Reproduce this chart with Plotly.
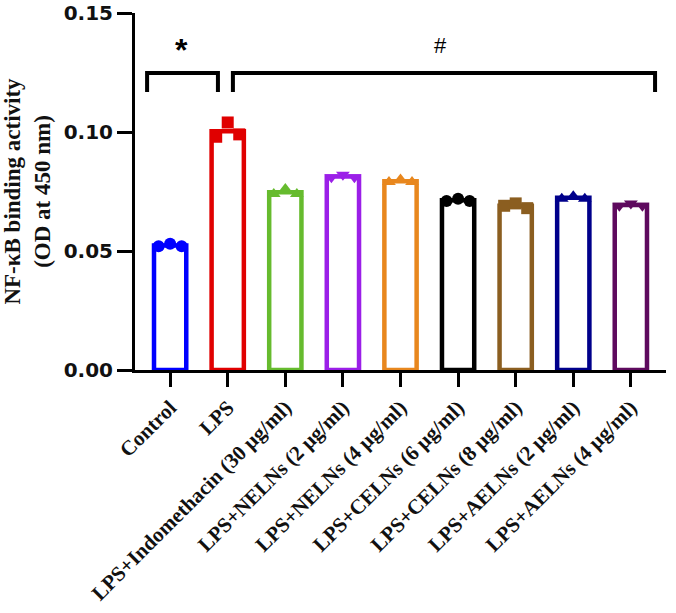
import plotly.graph_objects as go

categories = ["Control", "LPS", "LPS+Indomethacin (30 μg/ml)", "LPS+NELNs (2 μg/ml)",
              "LPS+NELNs (4 μg/ml)", "LPS+CELNs (6 μg/ml)", "LPS+CELNs (8 μg/ml)",
              "LPS+AELNs (2 μg/ml)", "LPS+AELNs (4 μg/ml)"]
replicates = [
    [0.052, 0.053, 0.052],
    [0.098, 0.104, 0.099],
    [0.074, 0.076, 0.074],
    [0.081, 0.082, 0.081],
    [0.079, 0.080, 0.079],
    [0.071, 0.072, 0.071],
    [0.069, 0.070, 0.068],
    [0.072, 0.073, 0.072],
    [0.069, 0.070, 0.069],
]
colors = ["#0000FF", "#E00000", "#66BB2E", "#9B1FE8", "#E8871E", "#000000",
          "#8B5E20", "#00008B", "#5E0A5E"]
symbols = ["circle", "square", "triangle-up", "triangle-down", "triangle-up",
           "circle", "square", "triangle-up", "triangle-down"]
offsets = [-0.2, 0.0, 0.2]

y_ticks = [0.00, 0.05, 0.10, 0.15]
y_ticktext = ["0.00", "0.05", "0.10", "0.15"]

xpos = list(range(len(categories)))
means = [sum(r) / len(r) for r in replicates]

fig = go.Figure()
fig.add_trace(go.Bar(
    x=xpos, y=means, width=0.56,
    marker=dict(color="white", line=dict(color=colors, width=4.5)),
    showlegend=False,
))
for i, r in enumerate(replicates):
    fig.add_trace(go.Scatter(
        x=[i + o for o in offsets], y=r, mode="markers",
        marker=dict(symbol=symbols[i], size=12, color=colors[i]),
        showlegend=False, cliponaxis=False,
    ))

# significance brackets
br_top, br_bot = 0.1248, 0.1168
fig.add_trace(go.Scatter(x=[-0.40, -0.40, 0.83, 0.83], y=[br_bot, br_top, br_top, br_bot],
                         mode="lines", line=dict(color="black", width=4), showlegend=False,
                         cliponaxis=False))
fig.add_trace(go.Scatter(x=[1.09, 1.09, 8.42, 8.42], y=[br_bot, br_top, br_top, br_bot],
                         mode="lines", line=dict(color="black", width=4), showlegend=False,
                         cliponaxis=False))
fig.add_annotation(x=0.2, y=0.1345, text="<b>*</b>", showarrow=False,
                   font=dict(family="Liberation Sans", size=32, color="black"))
fig.add_annotation(x=4.7, y=0.1365, text="#", showarrow=False,
                   font=dict(family="Liberation Sans", size=22, color="black"))

fig.update_layout(
    width=676, height=613,
    margin=dict(l=135, r=10, t=13, b=243),
    plot_bgcolor="white", paper_bgcolor="white",
)
fig.update_xaxes(
    range=[-0.61, 8.61], tickmode="array", tickvals=xpos, ticktext=categories,
    tickangle=-45, showline=True, linecolor="black", linewidth=3,
    ticks="outside", ticklen=14, tickwidth=3, tickcolor="black",
    showgrid=False, zeroline=False, automargin=False,
    tickfont=dict(family="Liberation Serif", size=21, color="#111", weight="bold"),
)
fig.update_yaxes(
    range=[0, 0.15], tickmode="array", tickvals=y_ticks, ticktext=y_ticktext,
    showline=True, linecolor="black", linewidth=3,
    ticks="outside", ticklen=15, tickwidth=3, tickcolor="black",
    showgrid=False, zeroline=False, automargin=False,
    tickfont=dict(family="DejaVu Sans", size=20, color="#111", weight="bold"),
    title=dict(text="NF-κB binding activity<br>(OD at 450 nm)", standoff=14,
               font=dict(family="Liberation Serif", size=23, color="#111", weight="bold")),
)

fig.write_html("out.html")
